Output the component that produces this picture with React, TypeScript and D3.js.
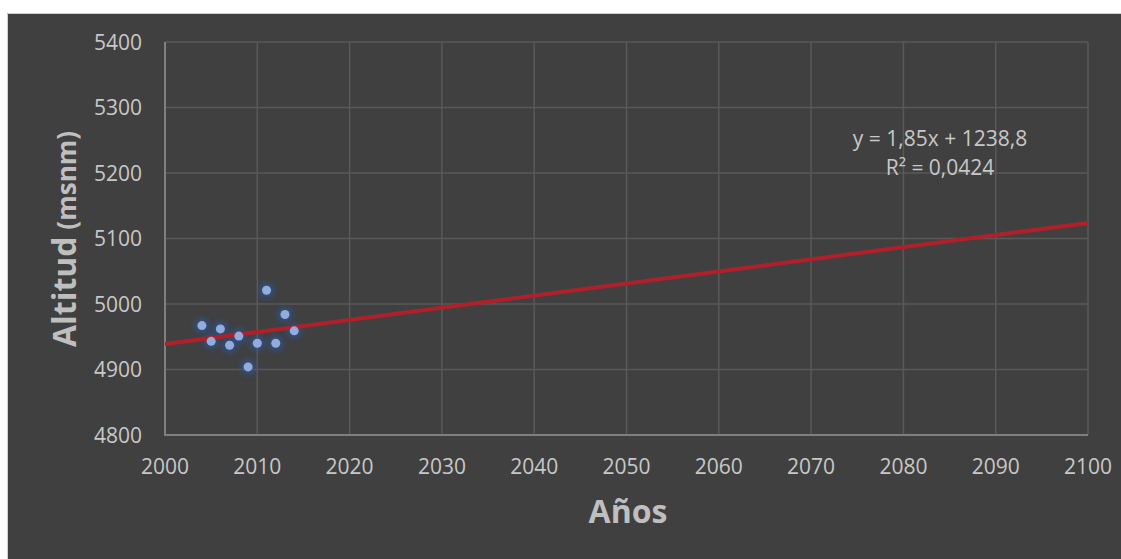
import React, { useEffect, useRef } from 'react';
import * as d3 from 'd3';

const years: number[] = [2004, 2005, 2006, 2007, 2008, 2009, 2010, 2011, 2012, 2013, 2014];
const altitudes: number[] = [4967, 4943, 4962, 4937, 4951, 4904, 4940, 5021, 4940, 4984, 4959];
const xTicks: number[] = [2000, 2010, 2020, 2030, 2040, 2050, 2060, 2070, 2080, 2090, 2100];
const yTicks: number[] = [4800, 4900, 5000, 5100, 5200, 5300, 5400];
const trendSlope: number = 1.85;
const trendIntercept: number = 1238.8;
const equationLines: string[] = ['y = 1,85x + 1238,8', 'R² = 0,0424'];

const width: number = 1121;
const height: number = 559;
const font = '"Open Sans", "Noto Sans", sans-serif';

export default function App() {
  const ref = useRef<SVGSVGElement>(null);

  useEffect(() => {
    const svg: any = d3.select(ref.current);
    svg.selectAll('*').remove();

    const xScale: any = d3.scaleLinear().domain([2000, 2100]).range([165, 1088]);
    const yScale: any = d3.scaleLinear().domain([4800, 5400]).range([435, 42]);

    // glow for the points
    const defs = svg.append('defs');
    const glow = defs.append('filter').attr('id', 'glow')
      .attr('x', '-100%').attr('y', '-100%').attr('width', '300%').attr('height', '300%');
    glow.append('feGaussianBlur').attr('in', 'SourceGraphic').attr('stdDeviation', 3);

    // background
    svg.append('rect')
      .attr('x', 7).attr('y', 13).attr('width', width - 7).attr('height', height - 13)
      .attr('fill', '#404040');
    svg.append('path')
      .attr('d', `M7.5,${height} V13.5 H${width}`)
      .attr('fill', 'none').attr('stroke', '#d0d0d0').attr('stroke-width', 1);

    // gridlines
    svg.append('g').selectAll('line.gy').data(yTicks.slice(1)).enter().append('line')
      .attr('x1', xScale(2000)).attr('x2', xScale(2100))
      .attr('y1', (d: number) => yScale(d)).attr('y2', (d: number) => yScale(d))
      .attr('stroke', '#595959').attr('stroke-width', 1.5);
    svg.append('g').selectAll('line.gx').data(xTicks.slice(1)).enter().append('line')
      .attr('x1', (d: number) => xScale(d)).attr('x2', (d: number) => xScale(d))
      .attr('y1', yScale(4800)).attr('y2', yScale(5400))
      .attr('stroke', '#595959').attr('stroke-width', 1.5);

    // axis lines
    svg.append('path')
      .attr('d', `M${xScale(2000)},${yScale(5400)} V${yScale(4800)} H${xScale(2100)}`)
      .attr('fill', 'none').attr('stroke', '#7f7f7f').attr('stroke-width', 2);

    // tick labels
    svg.append('g').selectAll('text').data(yTicks).enter().append('text')
      .attr('x', 142).attr('y', (d: number) => yScale(d))
      .attr('dy', '0.36em').attr('text-anchor', 'end')
      .attr('font-family', font).attr('font-size', 21).attr('fill', '#c8c8c8')
      .text((d: number) => d);
    svg.append('g').selectAll('text').data(xTicks).enter().append('text')
      .attr('x', (d: number) => xScale(d)).attr('y', yScale(4800) + 31)
      .attr('dy', '0.36em').attr('text-anchor', 'middle')
      .attr('font-family', font).attr('font-size', 21).attr('fill', '#c8c8c8')
      .text((d: number) => d);

    // points (halo)
    const pts = svg.append('g');
    pts.selectAll('circle.halo').data(years).enter().append('circle')
      .attr('cx', (d: number) => xScale(d)).attr('cy', (d: number, i: number) => yScale(altitudes[i]))
      .attr('r', 7).attr('fill', '#2f5597').attr('opacity', 0.9).attr('filter', 'url(#glow)');

    // trendline
    const line = d3.line<number>()
      .x((d: number) => xScale(d))
      .y((d: number) => yScale(trendSlope * d + trendIntercept));
    svg.append('path').datum([2000, 2100]).attr('d', line)
      .attr('fill', 'none').attr('stroke', '#b0202a').attr('stroke-width', 4);

    // points on top of the line
    const dots = svg.append('g');
    dots.selectAll('circle').data(years).enter().append('circle')
      .attr('cx', (d: number) => xScale(d)).attr('cy', (d: number, i: number) => yScale(altitudes[i]))
      .attr('r', 4.5).attr('fill', '#92acdd');

    // equation
    svg.append('g').selectAll('text').data(equationLines).enter().append('text')
      .attr('x', 940).attr('y', (d: string, i: number) => 138 + i * 29)
      .attr('dy', '0.36em').attr('text-anchor', 'middle')
      .attr('font-family', font).attr('font-size', 21).attr('fill', '#c8c8c8')
      .text((d: string) => d);

    // axis titles
    svg.append('text')
      .attr('x', 628).attr('y', 523).attr('text-anchor', 'middle')
      .attr('font-family', font).attr('font-size', 32).attr('font-weight', 'bold')
      .attr('fill', '#bfbfbf').text('Años');
    const yt = svg.append('text')
      .attr('transform', `translate(76,239) rotate(-90)`).attr('text-anchor', 'middle')
      .attr('font-family', font).attr('font-weight', 'bold').attr('fill', '#bfbfbf');
    yt.append('tspan').attr('font-size', 32).text('Altitud');
    yt.append('tspan').attr('font-size', 26).text(' (msnm)');
  }, []);

  return (
    <svg ref={ref} width={width} height={height}
      style={{ position: 'absolute', left: 0, top: 0, background: '#fff' }} />
  );
}
